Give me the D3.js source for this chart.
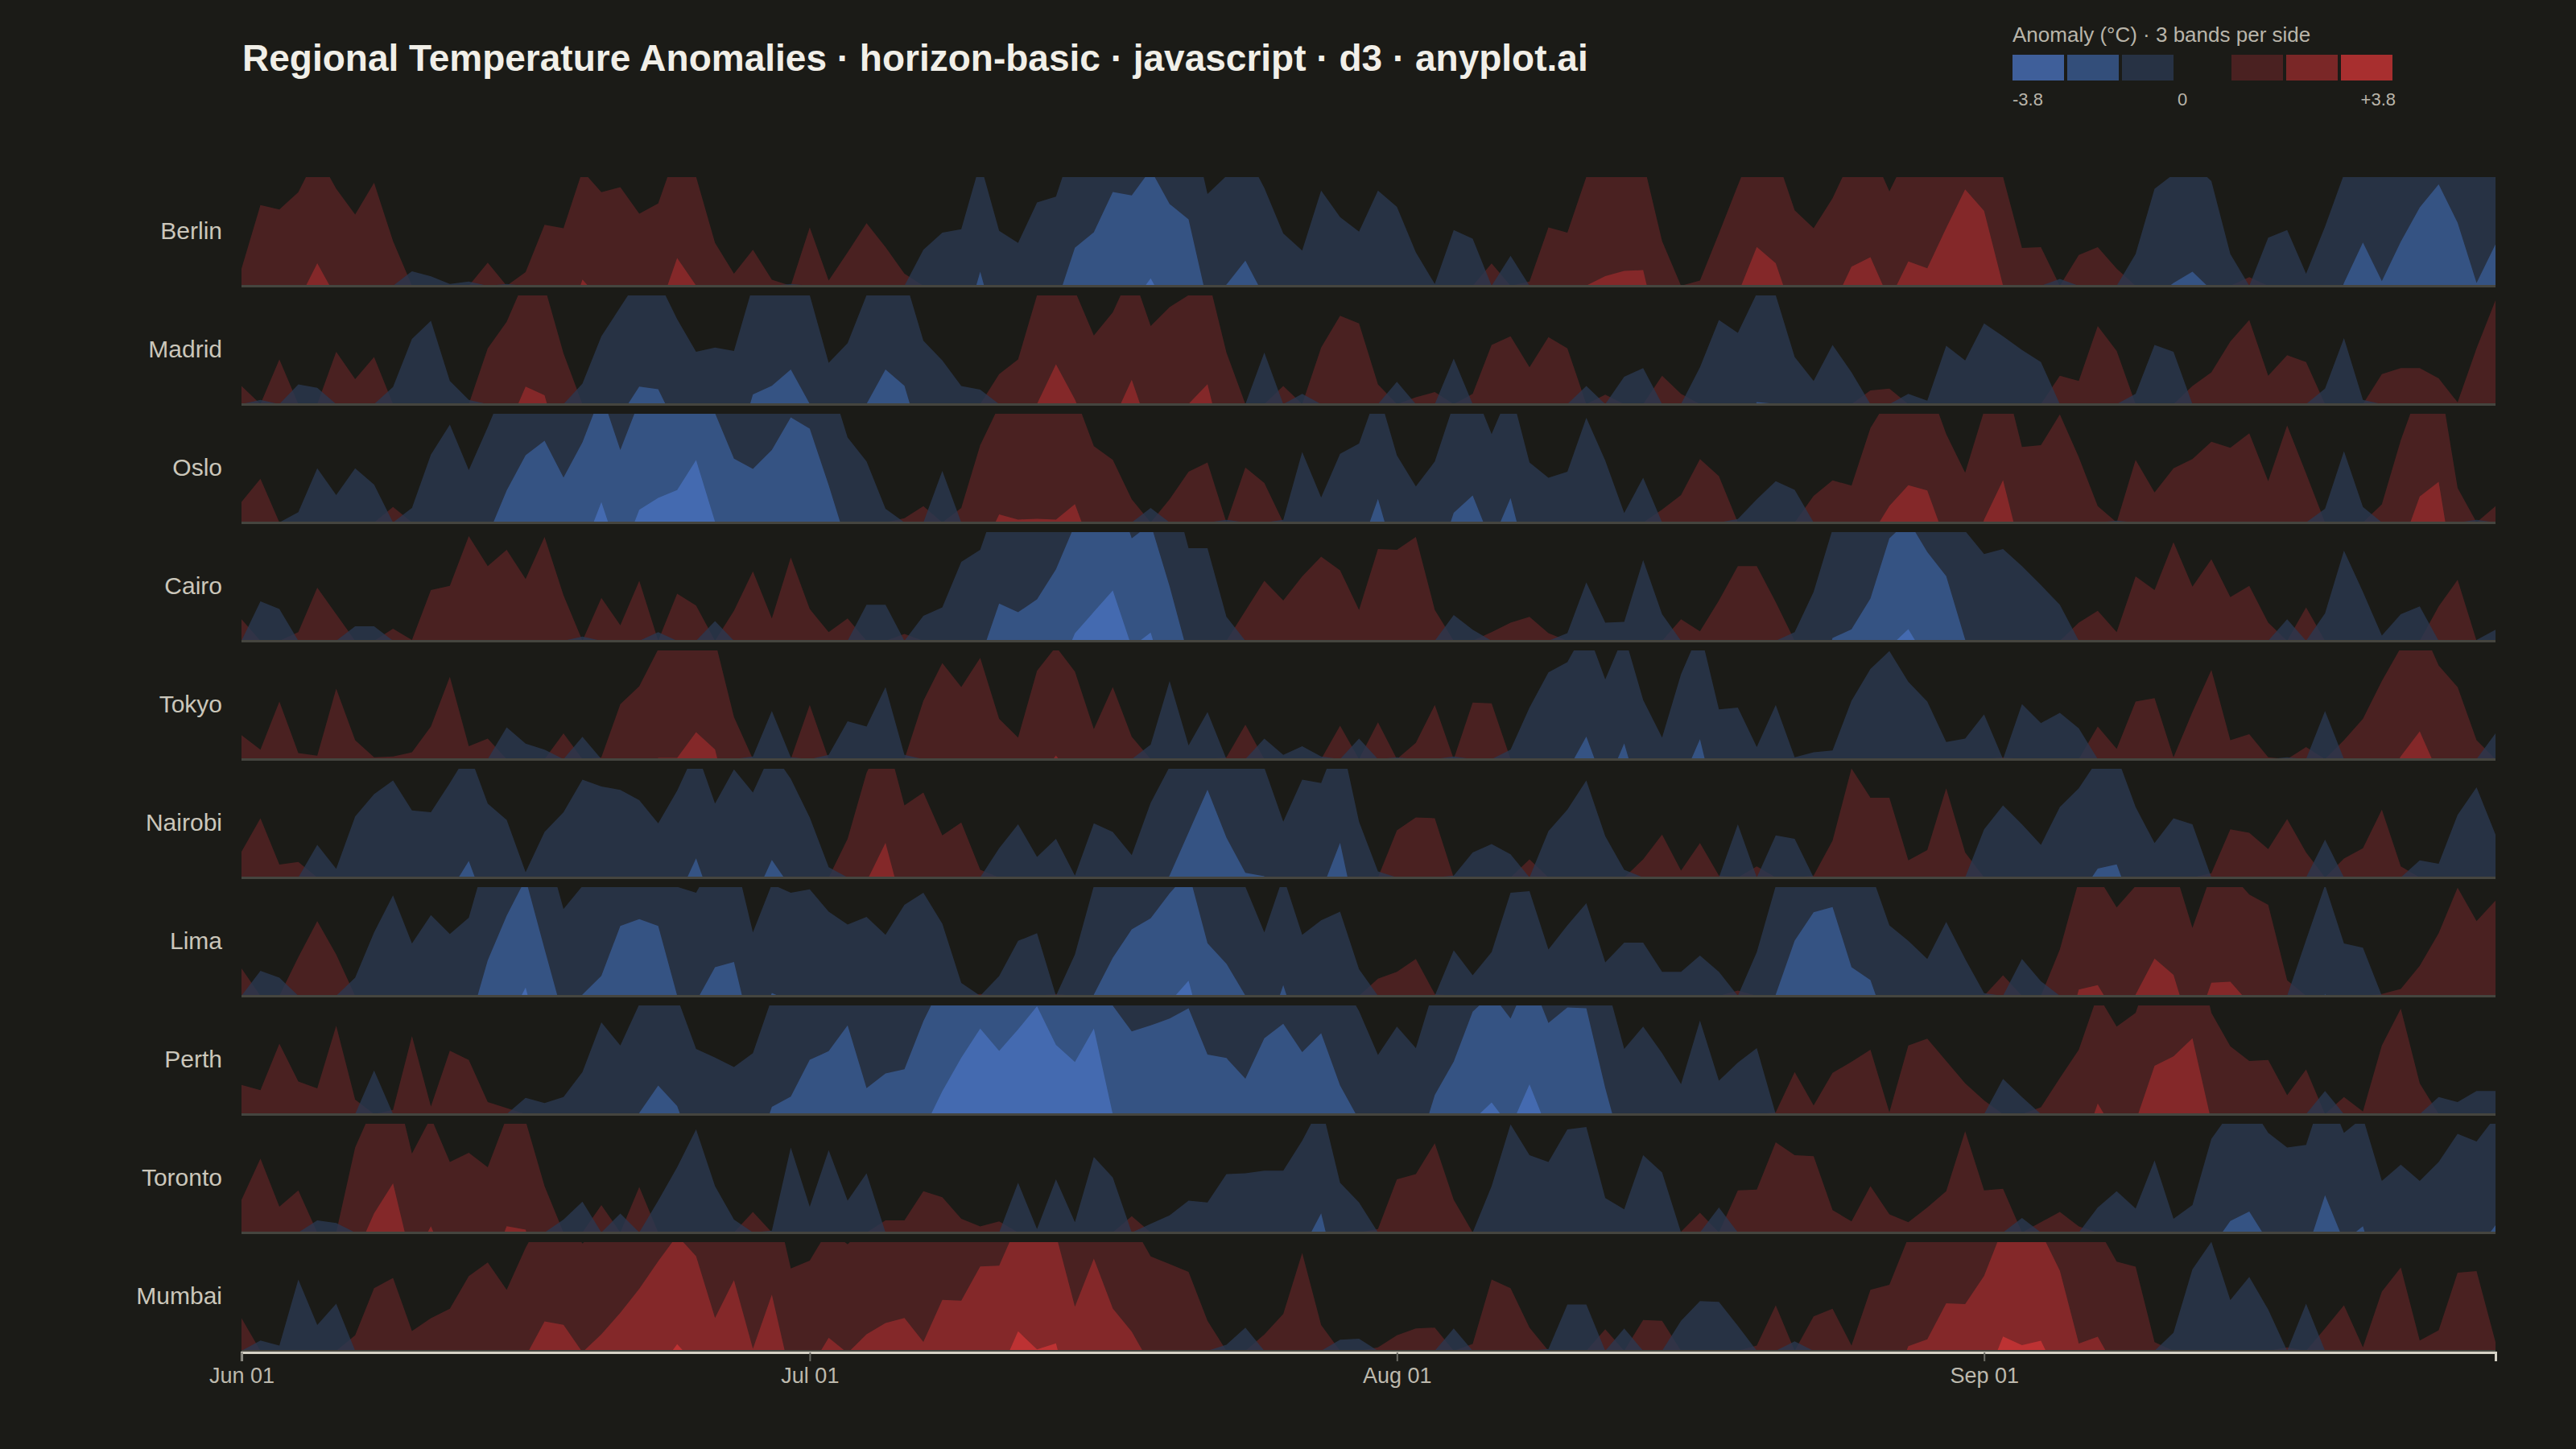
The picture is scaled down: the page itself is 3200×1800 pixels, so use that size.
<!DOCTYPE html>
<html>
<head>
<meta charset="utf-8">
<script src="https://cdn.jsdelivr.net/npm/d3@7"></script>
<style>
  html, body { margin: 0; background: #1b1b17; }
  svg { display: block; }
</style>
</head>
<body>
<svg id="chart" width="3200" height="1800" viewBox="0 0 3200 1800"></svg>
<script>
// ---- data (daily anomaly, °C, Jun 01 .. Sep 28) ----
const regions = ["Berlin", "Madrid", "Oslo", "Cairo", "Tokyo", "Nairobi", "Lima", "Perth", "Toronto", "Mumbai"];
const startDay = "2024-06-01";
const bandCount = 3;
const maxAnomaly = 3.8;

const berlin = [0.2,0.94,0.89,1.09,1.53,1.13,0.83,1.2,0.52,-0.17,
  -0.11,-0.02,-0.05,0.27,-0.02,0.16,0.71,0.67,1.34,1.09,
  1.15,0.84,0.96,1.59,1.27,0.5,0.14,0.42,0.07,-0.02,
  0.68,0.06,0.39,0.73,0.45,0.14,-0.42,-0.62,-0.66,-1.43,
  -0.64,-0.5,-0.97,-1.04,-1.71,-1.89,-2.36,-2.32,-2.62,-2.22,
  -2.04,-1.07,-1.28,-1.56,-1.14,-0.61,-0.41,-1.11,-0.8,-0.63,
  -1.11,-0.92,-0.39,-0.02,-0.65,-0.55,0.26,-0.35,0.05,0.68,
  0.62,1.27,1.38,1.44,1.45,0.52,0.0,0.06,0.61,1.17,
  1.72,1.53,0.88,0.67,1.02,1.49,1.6,1.1,1.55,1.47,
  1.94,2.39,2.14,1.27,0.44,0.45,-0.08,0.36,0.45,0.2,
  -0.37,-1.13,-1.3,-1.43,-1.22,-0.37,0.1,-0.56,-0.65,-0.14,
  -0.69,-1.3,-1.77,-1.32,-1.78,-2.18,-2.45,-2.0,-1.3,-1.75];

const madrid = [0.21,-0.05,0.52,-0.23,-0.19,0.61,0.29,0.55,-0.2,-0.76,
  -0.97,-0.27,-0.05,0.65,0.96,1.47,1.37,0.59,-0.24,-0.79,
  -1.13,-1.47,-1.44,-0.99,-0.61,-0.66,-0.62,-1.38,-1.48,-1.67,
  -1.27,-0.48,-0.71,-1.27,-1.67,-1.48,-0.74,-0.51,-0.21,-0.17,
  0.35,0.52,1.27,1.73,1.32,0.8,1.07,1.55,0.91,1.13,
  1.27,1.5,0.6,0.0,-0.6,0.21,-0.12,0.66,1.03,0.94,
  0.23,-0.26,0.08,0.14,-0.53,0.12,0.69,0.79,0.43,0.78,
  0.65,-0.21,0.11,-0.32,-0.42,0.33,0.12,-0.43,-0.98,-0.83,
  -1.29,-1.27,-0.55,-0.27,-0.69,-0.37,0.16,0.18,-0.12,-0.04,
  -0.68,-0.51,-0.94,-0.79,-0.63,-0.49,0.33,0.27,0.91,0.62,
  -0.12,-0.69,-0.61,0.21,0.37,0.73,0.98,0.33,0.57,0.49,
  -0.18,-0.77,-0.05,0.35,0.42,0.42,0.3,0.02,0.65,1.21];

const oslo = [0.24,0.51,0.0,-0.12,-0.63,-0.32,-0.63,-0.44,0.18,-0.17,
  -0.79,-1.14,-0.61,-1.11,-1.64,-2.05,-2.22,-1.79,-2.2,-2.77,
  -2.11,-2.68,-2.82,-2.91,-3.26,-2.54,-2.01,-1.89,-2.11,-2.49,
  -2.36,-1.7,-0.99,-0.71,-0.16,0.05,0.19,-0.6,0.17,0.9,
  1.36,1.3,1.31,1.3,1.48,0.89,0.73,0.27,-0.17,0.27,
  0.59,0.7,-0.03,0.64,0.46,-0.03,-0.82,-0.29,-0.8,-0.92,
  -1.54,-0.78,-0.42,-0.71,-1.38,-1.58,-1.03,-1.55,-0.7,-0.52,
  -0.59,-1.22,-0.72,-0.11,-0.52,0.15,0.32,0.74,0.54,-0.04,
  -0.27,-0.48,-0.38,0.31,0.49,0.43,1.1,1.46,1.7,1.64,
  1.03,0.58,1.3,1.76,0.88,0.9,1.26,0.76,0.19,-0.02,
  0.73,0.35,0.63,0.74,0.94,0.87,1.04,0.48,1.13,0.57,
  -0.16,-0.83,-0.18,0.21,0.96,1.57,1.74,0.4,-0.03,0.19];

const cairo = [0.25,-0.46,-0.37,0.1,0.62,0.31,-0.17,-0.17,0.14,0.01,
  0.59,0.64,1.22,0.87,1.06,0.72,1.21,0.53,-0.05,0.5,
  0.18,0.7,-0.1,0.55,0.41,-0.23,0.35,0.81,0.26,0.97,
  0.37,0.1,0.26,-0.42,-0.42,0.08,-0.29,-0.39,-0.92,-1.06,
  -1.7,-1.6,-1.75,-2.1,-2.62,-2.87,-3.12,-2.46,-2.63,-1.9,
  -1.08,-1.08,-0.28,0.35,0.7,0.47,0.75,0.98,0.82,0.36,
  1.07,1.06,1.21,0.36,-0.3,-0.13,0.1,0.21,0.28,0.09,
  -0.09,-0.68,-0.21,-0.22,-0.94,-0.31,0.25,0.11,0.47,0.87,
  0.87,0.45,-0.1,-0.57,-1.3,-1.4,-1.76,-2.46,-2.67,-2.3,
  -2.02,-1.28,-1.01,-1.07,-0.87,-0.65,-0.42,0.21,0.35,0.1,
  0.75,0.59,1.15,0.63,0.95,0.51,0.64,0.21,-0.25,0.39,
  -0.32,-1.05,-0.57,-0.06,-0.31,-0.4,0.4,0.71,-0.01,-0.13];

const tokyo = [0.28,0.11,0.67,0.07,0.04,0.82,0.22,0.02,0.03,0.08,
  0.38,0.96,0.15,0.24,-0.37,-0.18,-0.11,0.3,-0.26,0.02,
  0.64,0.85,1.28,1.28,1.58,1.38,0.49,-0.03,-0.56,-0.02,
  0.63,-0.05,-0.44,-0.38,-0.84,-0.05,0.68,1.12,0.84,1.18,
  0.47,0.25,1.03,1.31,1.02,0.35,0.84,0.26,-0.17,-0.91,
  -0.16,-0.55,0.02,0.4,-0.24,-0.05,-0.15,-0.03,0.39,-0.24,
  0.43,-0.02,0.19,0.63,-0.03,0.66,0.65,-0.11,-0.6,-1.01,
  -1.13,-1.53,-0.93,-1.45,-0.69,-0.25,-0.99,-1.5,-0.58,-0.6,
  -0.14,-0.63,-0.02,-0.08,-0.1,-0.68,-1.05,-1.26,-0.9,-0.67,
  -0.2,-0.24,-0.52,0.02,-0.64,-0.42,-0.54,-0.36,0.38,0.12,
  0.67,0.71,0.02,0.55,1.04,0.22,0.29,0.02,-0.02,0.14,
  -0.56,0.22,0.47,0.91,1.3,1.59,1.09,0.84,0.22,-0.3];

const nairobi = [0.3,0.69,0.15,0.18,-0.38,-0.1,-0.71,-0.97,-1.13,-0.78,
  -0.76,-1.1,-1.46,-0.86,-0.67,-0.06,-0.53,-0.76,-1.14,-1.06,
  -1.02,-0.9,-0.63,-1.01,-1.49,-0.86,-1.26,-0.99,-1.47,-1.15,
  -0.7,-0.12,0.45,1.22,1.67,0.84,0.99,0.49,0.64,0.09,
  -0.34,-0.62,-0.24,-0.45,-0.02,-0.63,-0.53,-0.26,-0.87,-1.29,
  -1.79,-2.29,-1.73,-1.32,-1.28,-0.65,-1.14,-1.1,-1.67,-0.65,
  -0.07,0.55,0.7,0.69,-0.02,-0.29,-0.39,-0.27,0.21,-0.54,
  -0.79,-1.13,-0.48,-0.09,0.21,0.5,0.08,0.4,0.02,-0.62,
  0.13,-0.49,-0.45,0.02,0.43,1.27,0.93,0.93,0.2,0.32,
  1.04,0.29,-0.56,-0.84,-0.62,-0.38,-0.82,-1.04,-1.37,-1.42,
  -0.82,-0.4,-0.69,-0.62,0.05,0.56,0.52,0.33,0.68,0.29,
  -0.44,0.22,0.34,0.79,0.13,-0.2,-0.16,-0.73,-1.05,-0.5];

const lima = [0.32,-0.29,-0.21,0.45,0.87,0.48,-0.21,-0.74,-1.17,-0.61,
  -0.94,-0.72,-0.91,-1.68,-2.2,-2.63,-1.81,-1.01,-1.28,-1.5,
  -2.08,-2.16,-2.08,-1.27,-1.2,-1.6,-1.66,-0.74,-1.3,-1.2,
  -1.24,-0.98,-0.83,-0.92,-0.71,-1.06,-1.2,-0.84,-0.15,0.02,
  -0.23,-0.64,-0.73,0.02,-0.48,-1.28,-1.71,-2.04,-2.17,-2.46,
  -2.71,-1.88,-1.64,-1.27,-0.74,-1.39,-0.71,-0.88,-0.98,-0.31,
  0.2,0.28,0.43,0.02,-0.53,-0.24,-0.51,-1.2,-1.22,-0.54,
  -0.82,-1.08,-0.39,-0.62,-0.62,-0.28,-0.28,-0.47,-0.28,0.06,
  -0.51,-1.28,-1.91,-2.24,-2.3,-1.6,-1.45,-0.82,-0.64,-0.43,
  -0.86,-0.43,-0.03,0.24,-0.43,-0.17,0.54,1.34,1.39,1.03,
  1.28,1.7,1.51,0.79,1.42,1.43,1.18,1.06,0.18,-0.65,
  -1.29,-0.61,-0.56,0.02,0.08,0.35,0.73,1.26,0.87,1.11];

const perth = [0.34,0.28,0.82,0.38,0.3,1.03,0.17,-0.51,0.05,0.91,
  0.09,0.74,0.63,0.14,0.07,-0.19,-0.13,-0.2,-0.49,-1.07,
  -0.8,-1.28,-1.6,-1.36,-0.76,-0.66,-0.55,-0.71,-1.35,-1.47,
  -1.9,-2.0,-2.3,-1.57,-1.74,-1.79,-2.35,-2.8,-3.19,-3.53,
  -3.27,-3.52,-3.79,-3.34,-3.14,-3.53,-2.53,-2.23,-2.3,-2.38,
  -2.5,-1.96,-1.92,-1.68,-2.15,-2.32,-1.99,-2.21,-1.6,-1.2,
  -0.69,-1.02,-0.77,-1.49,-1.88,-2.46,-2.67,-2.38,-2.88,-2.33,
  -2.51,-2.5,-1.57,-0.76,-1.02,-0.71,-0.35,-1.09,-0.39,-0.6,
  -0.77,0.02,0.49,0.1,0.48,0.61,0.75,0.02,0.8,0.88,
  0.62,0.36,0.16,-0.41,-0.2,0.08,0.42,0.75,1.39,1.02,
  1.18,1.83,1.94,2.15,1.18,0.79,0.62,0.63,0.22,0.52,
  -0.27,0.2,0.03,0.8,1.23,0.36,-0.2,-0.14,-0.27,-0.27];

const toronto = [0.38,0.86,0.3,0.49,-0.14,-0.11,0.99,1.49,1.84,0.92,
  1.34,0.82,0.93,0.76,1.34,1.3,0.54,-0.15,-0.36,0.32,
  -0.22,0.53,-0.37,-0.76,-1.2,-0.54,-0.15,0.24,-0.02,-0.99,
  -0.3,-0.96,-0.37,-0.69,0.14,0.14,0.48,0.41,0.16,0.07,
  0.13,-0.58,-0.04,-0.62,-0.12,-0.88,-0.64,0.19,-0.1,-0.2,
  -0.37,-0.35,-0.68,-0.69,-0.72,-0.72,-1.07,-1.49,-0.58,-0.35,
  0.04,0.62,0.68,1.04,0.38,0.0,-0.54,-1.26,-0.9,-0.82,
  -1.2,-1.23,-0.4,-0.27,-0.9,-0.7,0.01,0.23,-0.29,0.49,
  0.5,1.05,0.9,0.89,0.26,0.13,0.54,0.21,0.12,0.29,
  0.48,1.18,0.49,0.51,-0.17,0.12,0.24,0.07,-0.29,-0.48,
  -0.28,-0.84,-0.16,-0.32,-1.09,-1.4,-1.51,-1.16,-0.99,-1.02,
  -1.7,-1.16,-1.34,-0.6,-0.79,-0.6,-0.82,-1.15,-1.06,-1.35];

const mumbai = [0.38,-0.12,-0.06,-0.83,-0.3,-0.55,0.18,0.73,0.85,0.23,
  0.38,0.49,0.87,1.03,0.71,1.2,1.61,1.57,1.25,1.46,
  1.71,1.99,2.31,2.61,2.37,1.65,2.09,1.29,1.92,0.96,
  1.05,1.42,1.24,1.46,1.59,1.65,1.37,1.86,1.85,2.25,
  2.26,2.76,2.55,2.62,1.78,2.34,1.76,1.49,1.1,1.01,
  0.92,0.35,-0.07,-0.27,0.19,0.43,1.14,0.3,-0.13,-0.14,
  0.04,0.18,0.26,0.27,-0.26,0.08,0.83,0.73,0.27,-0.02,
  -0.54,-0.54,0.25,-0.26,0.36,0.35,-0.35,-0.58,-0.57,-0.29,
  0.06,0.53,-0.11,0.4,0.49,0.06,0.71,0.77,1.32,1.4,
  1.82,1.81,2.14,2.7,2.6,2.65,2.2,1.35,1.43,1.04,
  0.98,0.1,-0.21,-0.95,-1.27,-0.59,-0.86,-0.48,0.04,-0.55,
  0.26,0.53,0.04,0.69,0.97,0.12,0.24,0.91,0.93,0.1];

const anomalies = [berlin, madrid, oslo, cairo, tokyo, nairobi, lima, perth, toronto, mumbai];

// ---- styling ----
const bg = "#1b1b17";
const negColors = ["#2b3850", "#3a5b93", "#4870bb"]; // band 1..3 (cool)
const posColors = ["#562324", "#922b2c", "#cc3536"]; // band 1..3 (warm)
const bandOpacity = 0.8;
const font = "'Liberation Sans', Arial, Helvetica, sans-serif";

const svg = d3.select("#chart");
const width = 3200, height = 1800;
const margin = { left: 300, right: 100 };

svg.append("rect").attr("width", width).attr("height", height).attr("fill", bg);

const parseDay = d3.timeParse("%Y-%m-%d");
const t0 = parseDay(startDay);
const dates = anomalies[0].map((_, i) => d3.timeDay.offset(t0, i));

const x = d3.scaleTime()
    .domain(d3.extent(dates))
    .range([margin.left, width - margin.right]);

const y = d3.scaleBand()
    .domain(regions)
    .range([220, 1678])
    .paddingInner(0.0816);

const rowH = y.bandwidth();
const bandSize = maxAnomaly / bandCount;

// title
svg.append("text")
    .attr("x", 301).attr("y", 88)
    .attr("font-family", font).attr("font-size", 46).attr("font-weight", "bold")
    .attr("fill", "#f1efe8")
    .text("Regional Temperature Anomalies · horizon-basic · javascript · d3 · anyplot.ai");

// legend
const legend = svg.append("g").attr("transform", "translate(2500,0)");
legend.append("text")
    .attr("x", 0).attr("y", 52)
    .attr("font-family", font).attr("font-size", 26).attr("fill", "#b9b5aa")
    .text(`Anomaly (°C) · ${bandCount} bands per side`);

const sw = 64, gap = 4;
[2, 1, 0].forEach((b, k) => {
    legend.append("rect")
        .attr("x", k * (sw + gap)).attr("y", 68).attr("width", sw).attr("height", 32)
        .attr("fill", negColors[b]).attr("fill-opacity", bandOpacity);
});
[0, 1, 2].forEach((b, k) => {
    legend.append("rect")
        .attr("x", 272 + k * (sw + gap)).attr("y", 68).attr("width", sw).attr("height", 32)
        .attr("fill", posColors[b]).attr("fill-opacity", bandOpacity);
});
const legendLabels = [
    { x: 0, anchor: "start", text: `-${maxAnomaly}` },
    { x: 211, anchor: "middle", text: "0" },
    { x: 476, anchor: "end", text: `+${maxAnomaly}` }
];
legend.selectAll(".ll")
    .data(legendLabels)
    .enter().append("text")
    .attr("x", d => d.x).attr("y", 131)
    .attr("text-anchor", d => d.anchor)
    .attr("font-family", font).attr("font-size", 22).attr("fill", "#b9b5aa")
    .text(d => d.text);

// horizon rows
const area = d3.area()
    .x((d, i) => x(dates[i]))
    .y0(rowH)
    .y1(v => rowH - (v / bandSize) * rowH);

const rows = svg.selectAll(".row")
    .data(regions)
    .enter().append("g")
    .attr("class", "row")
    .attr("transform", d => `translate(0,${y(d)})`);

rows.append("clipPath")
    .attr("id", (d, i) => `clip-${i}`)
    .append("rect")
    .attr("x", margin.left).attr("y", 0)
    .attr("width", width - margin.right - margin.left)
    .attr("height", rowH);

rows.each(function (region, i) {
    const g = d3.select(this).append("g").attr("clip-path", `url(#clip-${i})`);
    const vals = anomalies[i];
    const pos = vals.map(v => Math.max(v, 0));
    const neg = vals.map(v => Math.max(-v, 0));
    for (let b = 0; b < bandCount; b++) {
        g.append("path")
            .datum(pos)
            .attr("d", area)
            .attr("transform", `translate(0,${b * rowH})`)
            .attr("fill", posColors[b])
            .attr("fill-opacity", bandOpacity);
    }
    for (let b = 0; b < bandCount; b++) {
        g.append("path")
            .datum(neg)
            .attr("d", area)
            .attr("transform", `translate(0,${b * rowH})`)
            .attr("fill", negColors[b])
            .attr("fill-opacity", bandOpacity);
    }
});

// row baselines
rows.append("line")
    .attr("x1", margin.left).attr("x2", width - margin.right)
    .attr("y1", rowH + 0.5).attr("y2", rowH + 0.5)
    .attr("stroke", "#45453f").attr("stroke-width", 3);

// row labels
rows.append("text")
    .attr("x", 276).attr("y", rowH / 2)
    .attr("dy", "0.32em")
    .attr("text-anchor", "end")
    .attr("font-family", font).attr("font-size", 30).attr("fill", "#cbc7bb")
    .text(d => d);

// x axis
const xAxis = svg.append("g")
    .attr("transform", "translate(0,1680)")
    .call(d3.axisBottom(x)
        .ticks(d3.timeMonth.every(1))
        .tickFormat(d3.timeFormat("%b %d"))
        .tickSize(11)
        .tickPadding(8));

xAxis.select(".domain").attr("stroke", "#d6d2c6").attr("stroke-width", 3);
xAxis.selectAll(".tick line").attr("stroke", "#6a6a64").attr("stroke-width", 2);
xAxis.selectAll(".tick text")
    .attr("font-family", font).attr("font-size", 27).attr("fill", "#bdb9ad");
</script>
</body>
</html>
